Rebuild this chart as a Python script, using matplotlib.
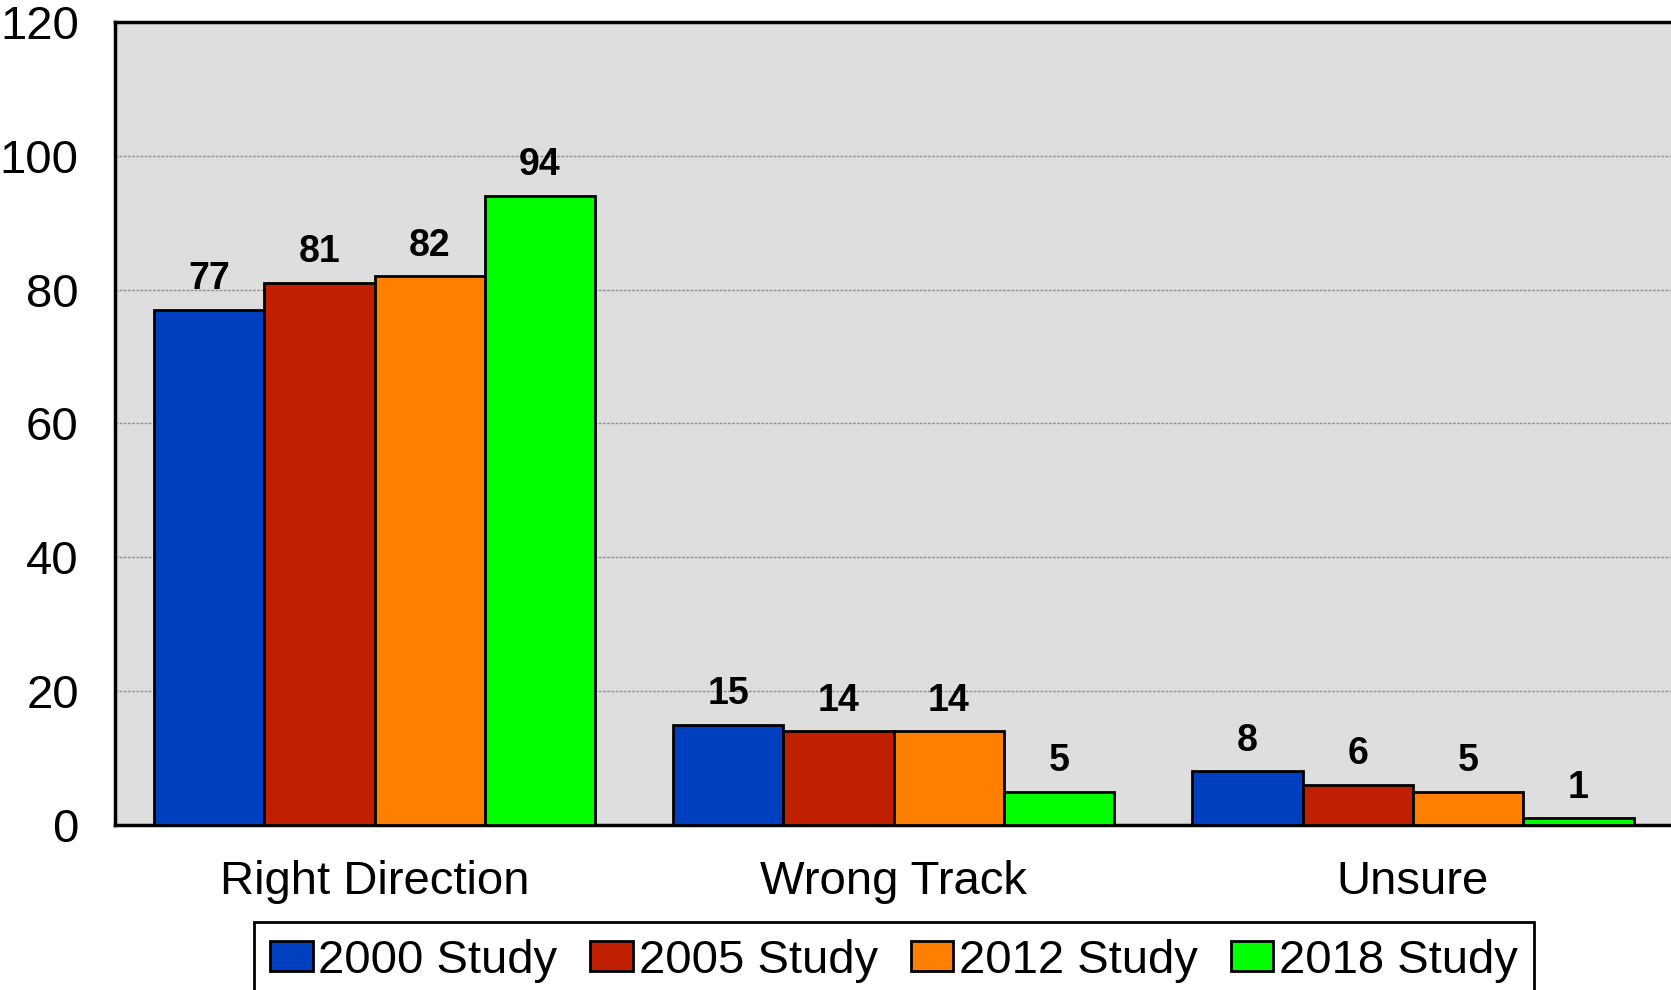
import matplotlib.pyplot as plt
import numpy as np

categories = ["Right Direction", "Wrong Track", "Unsure"]
series_names = ["2000 Study", "2005 Study", "2012 Study", "2018 Study"]
values_2000 = [77, 15, 8]
values_2005 = [81, 14, 6]
values_2012 = [82, 14, 5]
values_2018 = [94, 5, 1]
y_ticks = [0, 20, 40, 60, 80, 100, 120]

colors = ["#0040C0", "#C02000", "#FF8000", "#00FF00"]
all_values = [values_2000, values_2005, values_2012, values_2018]

plt.rcParams["font.family"] = ["Liberation Sans", "DejaVu Sans"]

fig = plt.figure(figsize=(16.71, 9.9), dpi=100)
ax = fig.add_axes([0.0688, 0.1667, 0.9321, 0.8111])
ax.set_facecolor("#DEDEDE")

x = np.arange(len(categories))
width = 0.85 / 4
for i, (name, vals) in enumerate(zip(series_names, all_values)):
    pos = x - 0.425 + width * (i + 0.5)
    b = ax.bar(pos, vals, width, color=colors[i], edgecolor="black",
               linewidth=2, label=name, zorder=3)
    ax.bar_label(b, labels=[str(v) for v in vals], padding=9,
                 fontsize=27, fontweight="bold", zorder=4)

ax.set_xlim(-0.5, 2.5)
ax.set_ylim(0, 120)
ax.set_yticks(y_ticks)
ax.set_xticks(x)
ax.set_xticklabels(categories)
ax.tick_params(axis="y", length=0, labelsize=34, pad=26)
ax.tick_params(axis="x", length=0, labelsize=34, pad=25)
ax.yaxis.grid(True, linestyle=(0, (2, 1)), color="#909090", linewidth=1, zorder=1)
ax.set_axisbelow(True)
for side in ["left", "top", "bottom"]:
    ax.spines[side].set_linewidth(2.5)
    ax.spines[side].set_color("black")
ax.spines["right"].set_visible(False)

leg = fig.legend(loc="upper center", bbox_to_anchor=(0.535, 0.0687), ncol=4,
                 frameon=True, fancybox=False, edgecolor="black", framealpha=1,
                 prop={"size": 34},
                 handlelength=0.9, handleheight=0.6, handletextpad=0.12,
                 columnspacing=0.7, borderpad=0.35, borderaxespad=0)
leg.get_frame().set_linewidth(2)

fig.savefig("out.png", dpi=100)
